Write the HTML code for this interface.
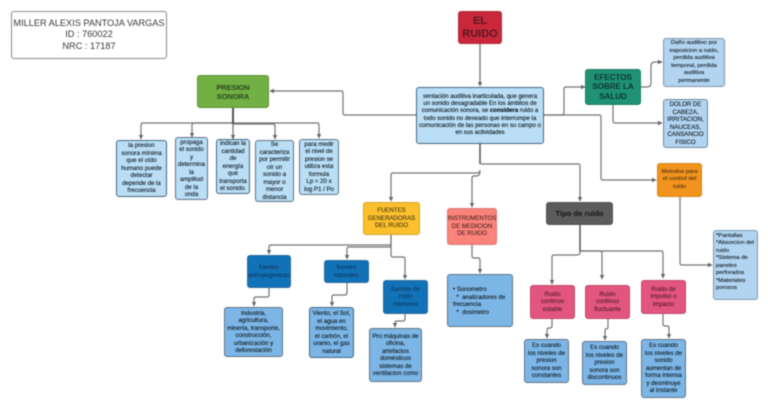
<!DOCTYPE html>
<html><head><meta charset="utf-8">
<style>
html,body{margin:0;padding:0;background:#fff}
#p{position:relative;width:768px;height:409px;overflow:hidden;background:#fff;font-family:"Liberation Sans",sans-serif;filter:blur(.45px)}
svg{position:absolute;left:0;top:0}
.b{position:absolute;box-sizing:border-box;display:flex;align-items:center;justify-content:center;text-align:center;border:1.2px solid #5f7485;border-radius:3px;font-size:6.1px;line-height:7.5px;color:#101c25;white-space:nowrap;-webkit-text-stroke:.12px currentColor}
.lb{background:#b9def5}
.mb{background:#7cb6e6}
.sb{background:#b3d4f0}
.db{background:#1272b8;color:#0d3d63;border-color:#2a6c9c}
.pk{background:#e2557f;color:#5a2030;border-color:#c24a6e}
</style></head><body><div id="p">
<svg width="768" height="409" fill="none" stroke="#747474" stroke-width="1.2">
<defs><marker id="a" markerWidth="4.5" markerHeight="5" refX="4" refY="2.5" orient="auto" markerUnits="userSpaceOnUse"><path d="M0 .3L4.5 2.5L0 4.7z" fill="#666" stroke="none"/></marker></defs>
<g marker-end="url(#a)">
<path d="M480 44V86" stroke-width="1.3"/>
<path d="M416 115H345Q343 115 343 113V93Q343 91 341 91H270"/>
<path d="M233 123H143Q141 123 141 125V139"/>
<path d="M233 123H194Q192 123 192 125V137"/>
<path d="M233 108V139" stroke-width="1.3"/>
<path d="M233 124H273Q275 124 275 126V139"/>
<path d="M233 123H317Q319 123 319 125V138"/>
<path d="M544 115H562Q564 115 564 113V89Q564 87 566 87H585"/>
<path d="M641 87H647Q651 87 651 83V66Q651 62 655 62H662"/>
<path d="M613 105V121Q613 123 615 123H662"/>
<path d="M544 115H599Q601 115 601 117V178Q601 180 603 180H656"/>
<path d="M680 197V263Q680 265 682 265H712"/>
<path d="M480 144V162Q480 164 482 164H578Q580 164 580 166V201"/>
<path d="M480 170Q480 173 477 173H393Q391 173 391 175V201"/>
<path d="M480 172Q480 176 476 176H474Q472 176 472 178V207"/>
<path d="M391 235V243Q391 245 389 245H271Q269 245 269 247V254"/>
<path d="M391 245Q391 247 389 247H349Q347 247 347 249V259"/>
<path d="M391 235V255Q391 257 393 257H403Q405 257 405 259V279"/>
<path d="M472 245V256Q472 258 474 258H478Q480 258 480 260V273"/>
<path d="M269 288V295Q269 297 267 297H256Q254 297 254 299V306"/>
<path d="M347 283V293Q347 295 345 295H334Q332 295 332 297V306"/>
<path d="M405 314V319Q405 321 403 321H397Q395 321 395 323V327"/>
<path d="M580 224V252Q580 255 577 255H554Q552 255 552 257V284"/>
<path d="M580 251H600Q602 251 602 253V279"/>
<path d="M580 251H661Q663 251 663 253V278"/>
<path d="M552 319V326Q552 328 550 328H549Q547 328 547 330V338"/>
<path d="M608 319V327Q608 329 606 329Q605 329 605 331V340"/>
<path d="M663 314V324Q663 326 665 326H667Q669 326 669 328V338"/>
</g>
<path d="M233 108V124" stroke-width="2" stroke="#555"/>
<path d="M480 144V164M580 224V251" stroke-width="1.7" stroke="#6a6a6a"/>
</svg>

<div class="b" style="left:11px;top:11px;width:156px;height:48px;background:#fff;border-color:#8a8a8a;font-size:9.2px;line-height:11.3px;color:#3a3a3a;-webkit-text-stroke:0">MILLER ALEXIS PANTOJA VARGAS<br>ID : 760022<br>NRC : 17187</div>

<div class="b" style="left:197px;top:75px;width:72px;height:33px;background:#72b043;border-color:#5d9236;color:#2f4f22;font-weight:bold;font-size:7.4px;line-height:9px">PRESION<br>SONORA</div>

<div class="b lb" style="left:116px;top:140px;width:51px;height:57px;border-color:#44677f">la presion<br>sonora mínima<br>que el oído<br>humano puede<br>detectar<br>depende de la<br>frecuencia</div>
<div class="b lb" style="left:175px;top:137px;width:33px;height:63px">propaga<br>el sonido<br>y<br>determina<br>la<br>amplitud<br>de la<br>onda</div>
<div class="b lb" style="left:216px;top:139px;width:34px;height:55px;border-color:#44677f">indican la<br>cantidad<br>de<br>energía<br>que<br>transporta<br>el sonido.</div>
<div class="b lb" style="left:255px;top:140px;width:39px;height:62px">Se<br>caracteriza<br>por permitir<br>oír un<br>sonido a<br>mayor o<br>menor<br>distancia</div>
<div class="b lb" style="left:299px;top:139px;width:40px;height:56px">para medir<br>el nivel de<br>presion se<br>utiliza esta<br>formula<br>Lp = 20 x<br>log P1 / Po</div>

<div class="b" style="left:458px;top:11px;width:44px;height:33px;background:#c9283b;border-color:#b02a3a;color:#5e1a22;font-weight:bold;font-size:11px;line-height:13px">EL<br>RUIDO</div>

<div class="b lb" style="left:416px;top:87px;width:128px;height:57px;font-size:6px;line-height:7.2px;color:#0c161e;border-color:#44677f"><span>sentación auditiva inarticulada, que genera<br>un sonido desagradable En los  ámbitos de<br>comunicación sonora, se <b>considera</b> ruido a<br>todo sonido no deseado que interrumpe la<br>comunicación de las personas en su campo o<br>en sus actividades</span></div>

<div class="b" style="left:585px;top:69px;width:56px;height:36px;background:#1f9276;border-color:#1f8068;color:#0e3f36;font-weight:bold;font-size:8px;line-height:9.3px">EFECTOS<br>SOBRE LA<br>SALUD</div>
<div class="b sb" style="left:663px;top:38px;width:62px;height:49px;border-color:#8096a8;font-size:5.9px">Daño auditivo por<br>exposicion a ruido,<br>perdida auditiva<br>temporal, perdida<br>auditiva<br>permanente</div>
<div class="b sb" style="left:663px;top:99px;width:45px;height:49px;border-color:#6f8ba0;font-size:6.1px">DOLOR DE<br>CABEZA,<br>IRRITACION,<br>NAUCEAS,<br>CANSANCIO<br>FISICO</div>
<div class="b" style="left:657px;top:163px;width:45px;height:34px;background:#f0931f;border-color:#d98420;color:#55330b;font-size:5.9px;line-height:7.4px">Metodos para<br>el control del<br>ruido</div>
<div class="b sb" style="left:713px;top:230px;width:45px;height:70px;border-color:#7b98ae;display:block;text-align:left;padding:1.5px 0 0 2px;font-size:5.9px">*Pantallas<br>*Absorcion del<br>ruido<br>*Sistema de<br>paneles<br>perforados<br>*Materiales<br>porosos</div>

<div class="b" style="left:363px;top:202px;width:57px;height:33px;background:#fcc02e;border-color:#d9a52c;color:#4f3c10">FUENTES<br>GENERADORAS<br>DEL RUIDO</div>
<div class="b" style="left:447px;top:208px;width:50px;height:37px;background:#f9837a;border-color:#d87a74;color:#5a2a28">INSTRUMENTOS<br>DE MEDICION<br>DE RUIDO</div>
<div class="b db" style="left:247px;top:255px;width:44px;height:33px">fuentes<br>antropogenicas</div>
<div class="b db" style="left:324px;top:260px;width:45px;height:23px">fuentes<br>naturales</div>
<div class="b db" style="left:383px;top:280px;width:45px;height:34px">fuentes de<br>ruido<br>interiores</div>
<div class="b mb" style="left:224px;top:307px;width:59px;height:50px">Industria,<br>agricultura,<br>minería, transporte,<br>construcción,<br>urbanización y<br>deforestación</div>
<div class="b mb" style="left:309px;top:307px;width:45px;height:51px;border-color:#44677f">Viento, el Sol,<br>el agua en<br>movimiento,<br>el carbón, el<br>uranio, el gas<br>natural</div>
<div class="b mb" style="left:369px;top:328px;width:53px;height:54px">Pro máquinas de<br>oficina,<br>artefactos<br>domésticos<br>sistemas de<br>ventilacion como</div>
<div class="b mb" style="left:447px;top:274px;width:66px;height:53px;display:block;text-align:left;padding:11px 0 0 5px">• Sonometro<br>&nbsp;&nbsp;*&nbsp; analizadores de<br>frecuencia<br>&nbsp;&nbsp;*&nbsp; dosimetro</div>

<div class="b" style="left:546px;top:202px;width:67px;height:23px;background:#5c5c5c;border-color:#555;color:#1c1c1c;font-weight:bold;font-size:7.6px">Tipo de ruido</div>
<div class="b pk" style="left:530px;top:285px;width:45px;height:34px">Ruido<br>continuo<br>estable</div>
<div class="b pk" style="left:585px;top:285px;width:45px;height:34px">Ruido<br>continuo<br>fluctuante</div>
<div class="b pk" style="left:641px;top:280px;width:45px;height:34px">Ruido de<br>impulso o<br>impacto</div>
<div class="b mb" style="left:524px;top:339px;width:45px;height:44px">Es cuando<br>los niveles de<br>presion<br>sonora son<br>constantes</div>
<div class="b mb" style="left:582px;top:341px;width:45px;height:44px">Es cuando<br>los niveles de<br>presion<br>sonora son<br>discontinuos</div>
<div class="b mb" style="left:641px;top:339px;width:45px;height:59px">Es cuando<br>los niveles de<br>sonido<br>aumentan de<br>forma intensa<br>y desminuye<br>al instante</div>
</div></body></html>
